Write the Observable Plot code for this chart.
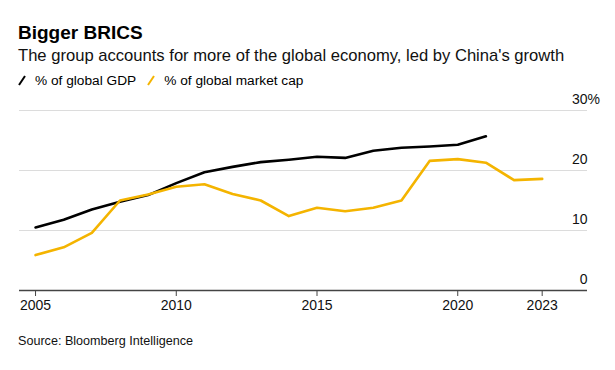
<!DOCTYPE html>
<html>
<head>
<meta charset="utf-8">
<script src="https://cdn.jsdelivr.net/npm/d3@7"></script>
<script src="https://cdn.jsdelivr.net/npm/@observablehq/plot@0.6"></script>
<style>
  html, body { margin: 0; padding: 0; background: #fff; }
  body { width: 615px; height: 370px; font-family: "Liberation Sans", Arial, sans-serif; color: #000; position: relative; overflow: hidden; }
  #title { position: absolute; left: 18px; top: 23px; font-size: 19px; font-weight: bold; line-height: 1; }
  #subtitle { position: absolute; left: 18px; top: 48px; font-size: 16.6px; line-height: 1; color: #111; }
  #legend { position: absolute; left: 18px; top: 74px; font-size: 13.7px; line-height: 1; display: flex; align-items: center; }
  #legend .item { display: flex; align-items: center; margin-right: 11px; }
  #legend svg { margin-right: 9px; }
  #chart { position: absolute; left: 0; top: 90px; }
  #source { position: absolute; left: 18px; top: 335px; font-size: 12.6px; line-height: 1; color: #111; }
</style>
</head>
<body>
<div id="title">Bigger BRICS</div>
<div id="subtitle">The group accounts for more of the global economy, led by China's growth</div>
<div id="legend"></div>
<div id="chart"></div>
<div id="source">Source: Bloomberg Intelligence</div>
<script>
const years = [2005, 2006, 2007, 2008, 2009, 2010, 2011, 2012, 2013, 2014, 2015, 2016, 2017, 2018, 2019, 2020, 2021, 2022, 2023];
const gdpShare = [10.5, 11.8, 13.5, 14.8, 15.9, 17.9, 19.7, 20.6, 21.4, 21.8, 22.3, 22.1, 23.3, 23.8, 24.0, 24.3, 25.7, null, null];
const marketCapShare = [5.9, 7.2, 9.6, 15.0, 16.0, 17.3, 17.7, 16.1, 15.0, 12.4, 13.8, 13.2, 13.8, 15.0, 21.6, 21.9, 21.3, 18.4, 18.6];
const seriesNames = ["% of global GDP", "% of global market cap"];
const seriesColors = ["#000000", "#f4b400"];
const xTicks = [2005, 2010, 2015, 2020, 2023];
const yTicks = [0, 10, 20, 30];

// legend
const legend = document.getElementById("legend");
seriesNames.forEach((name, i) => {
  const item = document.createElement("div");
  item.className = "item";
  item.innerHTML = `<svg width="8" height="11"><line x1="1" y1="10" x2="7" y2="1" stroke="${seriesColors[i]}" stroke-width="2"/></svg><span>${name}</span>`;
  legend.appendChild(item);
});

const rows = [];
years.forEach((y, i) => {
  if (gdpShare[i] != null) rows.push({year: y, value: gdpShare[i], series: seriesNames[0]});
});
years.forEach((y, i) => {
  if (marketCapShare[i] != null) rows.push({year: y, value: marketCapShare[i], series: seriesNames[1]});
});

const xMin = 2004.43, xMax = 2024.61;

const chart = Plot.plot({
  width: 615,
  height: 230,
  marginLeft: 19,
  marginRight: 28,
  marginTop: 20,
  marginBottom: 30,
  style: {fontFamily: "Liberation Sans, Arial, sans-serif", background: "transparent"},
  x: {domain: [xMin, xMax]},
  y: {domain: [0, 30], axis: null},
  color: {domain: seriesNames, range: seriesColors},
  marks: [
    Plot.ruleY(yTicks.filter(d => d > 0), {stroke: "#dcdcdc", strokeWidth: 1}),
    Plot.ruleY([0], {stroke: "#444", strokeWidth: 1.3}),
    Plot.axisX({ticks: xTicks, tickFormat: d => String(d), tickSize: 6, tickPadding: 4, fontSize: 14, stroke: "#444", color: "#111", label: null}),
    Plot.text(yTicks, {x: xMax, y: d => d, text: d => String(d), textAnchor: "end", dy: -11, fontSize: 14, fill: "#111"}),
    Plot.text([30], {x: xMax, y: d => d, text: () => "%", textAnchor: "start", dy: -11, fontSize: 14, fill: "#111"}),
    Plot.line(rows, {x: "year", y: "value", z: "series", stroke: "series", strokeWidth: 2.6, curve: "linear"})
  ]
});
document.getElementById("chart").appendChild(chart);
</script>
</body>
</html>
